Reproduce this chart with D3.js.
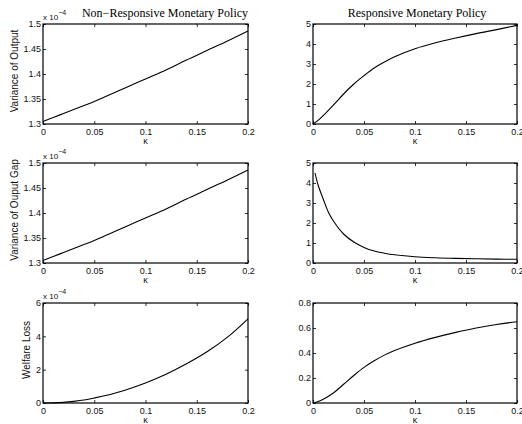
<!DOCTYPE html>
<html>
<head>
<meta charset="utf-8">
<script src="https://cdn.jsdelivr.net/npm/d3@7.9.0/dist/d3.min.js"></script>
<style>
  body { margin: 0; background: #fff; }
  svg { display: block; }
  .tick text { font-family: "Liberation Sans", Arial, sans-serif; font-size: 9px; fill: #111; }
  .lbl { font-family: "Liberation Sans", Arial, sans-serif; font-size: 9px; fill: #111; }
  .ylbl { font-size: 10px; }
  .ttl { font-family: "Liberation Serif", "Times New Roman", serif; font-size: 12px; fill: #000; }
</style>
</head>
<body>
<svg id="chart" width="522" height="424"></svg>
<script>
const kappa = [0, 0.005, 0.01, 0.02, 0.03, 0.04, 0.05, 0.06, 0.07, 0.08, 0.1, 0.12, 0.14, 0.16, 0.18, 0.2];
const kappaGap = [0.002, 0.005, 0.01, 0.015, 0.02, 0.03, 0.04, 0.05, 0.06, 0.07, 0.08, 0.1, 0.12, 0.14, 0.16, 0.18, 0.2];

// non-responsive policy (values in units of 1e-4)
const varOutputNR = [1.305, 1.309, 1.313, 1.321, 1.329, 1.337, 1.345, 1.354, 1.363, 1.372, 1.390, 1.408, 1.428, 1.447, 1.466, 1.486];
const varGapNR = [1.305, 1.309, 1.313, 1.321, 1.329, 1.337, 1.345, 1.354, 1.363, 1.372, 1.390, 1.408, 1.428, 1.447, 1.466, 1.486];
const welfareNR = [0, 0.003, 0.01, 0.04, 0.1, 0.18, 0.3, 0.43, 0.59, 0.77, 1.2, 1.72, 2.35, 3.07, 3.95, 5.05];

// responsive policy
const varOutputR = [0, 0.18, 0.42, 0.95, 1.5, 2.0, 2.42, 2.8, 3.1, 3.36, 3.76, 4.06, 4.3, 4.52, 4.72, 4.93];
const varGapR = [4.5, 3.9, 3.2, 2.55, 2.1, 1.45, 1.05, 0.78, 0.6, 0.49, 0.41, 0.31, 0.26, 0.23, 0.21, 0.195, 0.185];
const welfareR = [0, 0.012, 0.03, 0.08, 0.15, 0.22, 0.285, 0.338, 0.383, 0.42, 0.478, 0.525, 0.565, 0.6, 0.628, 0.65];

const xTicks = [0, 0.05, 0.1, 0.15, 0.2];
const titles = ['Non\u2212Responsive Monetary Policy', 'Responsive Monetary Policy'];
const yLabels = ['Variance of Output', 'Variance of Ouput Gap', 'Welfare Loss'];

const panels = [
  { row: 0, col: 0, x: kappa, y: varOutputNR, domain: [1.3, 1.5], ticks: [1.3, 1.35, 1.4, 1.45, 1.5], exp: true },
  { row: 0, col: 1, x: kappa, y: varOutputR, domain: [0, 5], ticks: [0, 1, 2, 3, 4, 5] },
  { row: 1, col: 0, x: kappa, y: varGapNR, domain: [1.3, 1.5], ticks: [1.3, 1.35, 1.4, 1.45, 1.5], exp: true },
  { row: 1, col: 1, x: kappaGap, y: varGapR, domain: [0, 5], ticks: [0, 1, 2, 3, 4, 5] },
  { row: 2, col: 0, x: kappa, y: welfareNR, domain: [0, 6], ticks: [0, 2, 4, 6], exp: true },
  { row: 2, col: 1, x: kappa, y: welfareR, domain: [0, 0.8], ticks: [0, 0.2, 0.4, 0.6, 0.8] },
];

const colLeft = [43, 313];
const colWidth = [205, 204];
const rowTop = [24, 163, 303];
const ph = 100;

const svg = d3.select('#chart');
const fmt = (d) => String(+d.toFixed(3));

panels.forEach((p) => {
  const w = colWidth[p.col];
  const g = svg.append('g').attr('transform', `translate(${colLeft[p.col]},${rowTop[p.row]})`);
  const x = d3.scaleLinear().domain([0, 0.2]).range([0, w]);
  const y = d3.scaleLinear().domain(p.domain).range([ph, 0]);

  // bottom + left axes with labels, top + right with ticks only (inward)
  const axB = g.append('g').attr('transform', `translate(0,${ph})`)
    .call(d3.axisBottom(x).tickValues(xTicks).tickFormat(fmt).tickSizeInner(-3).tickSizeOuter(0).tickPadding(5));
  const axT = g.append('g')
    .call(d3.axisTop(x).tickValues(xTicks).tickFormat('').tickSizeInner(-3).tickSizeOuter(0));
  const axL = g.append('g')
    .call(d3.axisLeft(y).tickValues(p.ticks).tickFormat(fmt).tickSizeInner(-3).tickSizeOuter(0).tickPadding(2));
  const axR = g.append('g').attr('transform', `translate(${w},0)`)
    .call(d3.axisRight(y).tickValues(p.ticks).tickFormat('').tickSizeInner(-3).tickSizeOuter(0));
  [axB, axT, axL, axR].forEach((a) => {
    a.select('.domain').remove();
    a.selectAll('.tick line').attr('stroke', '#000').attr('stroke-width', 0.8);
  });

  g.append('rect').attr('width', w).attr('height', ph)
    .attr('fill', 'none').attr('stroke', '#000').attr('stroke-width', 1.2);

  const line = d3.line()
    .x((d, i) => x(p.x[i]))
    .y((d) => y(d))
    .curve(d3.curveCatmullRom.alpha(0.5));
  g.append('path').datum(p.y).attr('d', line)
    .attr('fill', 'none').attr('stroke', '#000').attr('stroke-width', 1.1);

  g.append('text').attr('class', 'lbl').attr('x', w / 2).attr('y', ph + 20)
    .attr('text-anchor', 'middle').text('\u03ba');

  if (p.exp) {
    const e = g.append('text').attr('class', 'lbl').attr('x', 0).attr('y', -4).style('font-size', '8px');
    e.append('tspan').text('x 10');
    e.append('tspan').attr('dy', -5).style('font-size', '7px').text('\u22124');
  }

  if (p.col === 0) {
    const lx = p.row === 2 ? -13 : -25;
    g.append('text').attr('class', 'lbl ylbl')
      .attr('transform', `translate(${lx},${ph / 2 - 3}) rotate(-90)`)
      .attr('text-anchor', 'middle').text(yLabels[p.row]);
  }
});

svg.append('text').attr('class', 'ttl').attr('x', 165).attr('y', 17)
  .attr('text-anchor', 'middle').text(titles[0]);
svg.append('text').attr('class', 'ttl').attr('x', 417).attr('y', 17)
  .attr('text-anchor', 'middle').text(titles[1]);
</script>
</body>
</html>
